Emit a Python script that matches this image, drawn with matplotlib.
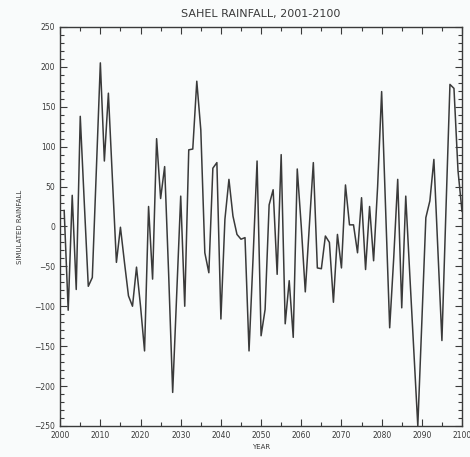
import matplotlib
matplotlib.use("Agg")
import matplotlib.pyplot as plt
from matplotlib.ticker import MultipleLocator

# simulated Sahel rainfall anomaly, one value per year 2001-2100
years = list(range(2001, 2101))
rainfall = [
    20, -105, 39, -79, 138, 30, -75, -64, 70, 205,
    82, 167, 60, -45, -1, -45, -87, -100, -51, -100,
    -156, 25, -66, 110, 35, 75, -60, -208, -85, 38,
    -100, 96, 97, 182, 121, -33, -58, 73, 80, -116,
    9, 59, 13, -10, -16, -14, -156, -40, 82, -137,
    -104, 27, 46, -60, 90, -122, -68, -139, 72, 0,
    -82, 0, 80, -52, -53, -12, -20, -95, -10, -52,
    52, 2, 2, -33, 36, -54, 25, -43, 50, 169,
    20, -127, -40, 59, -102, 38, -60, -155, -250, -120,
    11, 32, 84, -30, -143, 20, 178, 173, 70, 19,
]
title = "SAHEL RAINFALL, 2001-2100"

ink = "#3a3a3a"
bg = "#f9fbfb"

fig = plt.figure(figsize=(4.7, 4.57), dpi=100, facecolor=bg)
ax = fig.add_axes([0.128, 0.068, 0.855, 0.873], facecolor=bg)

ax.plot(years, rainfall, color=ink, lw=1.1)

ax.set_xlim(2000, 2100)
ax.set_ylim(-250, 250)
ax.xaxis.set_major_locator(MultipleLocator(10))
ax.xaxis.set_minor_locator(MultipleLocator(5))
ax.yaxis.set_major_locator(MultipleLocator(50))
ax.yaxis.set_minor_locator(MultipleLocator(10))
ax.tick_params(which="both", direction="in", top=True, right=True,
               colors=ink, labelsize=5.5, width=0.8)
ax.tick_params(which="major", length=5)
ax.tick_params(which="minor", length=3)
for s in ax.spines.values():
    s.set_color(ink)
    s.set_linewidth(1.0)

ax.set_title(title, fontsize=8, color=ink, pad=7)
ax.set_xlabel("YEAR", fontsize=5, color=ink, labelpad=3)
ax.set_ylabel("SIMULATED RAINFALL", fontsize=5, color=ink, labelpad=8)

fig.savefig("out.png", dpi=100, facecolor=bg)
